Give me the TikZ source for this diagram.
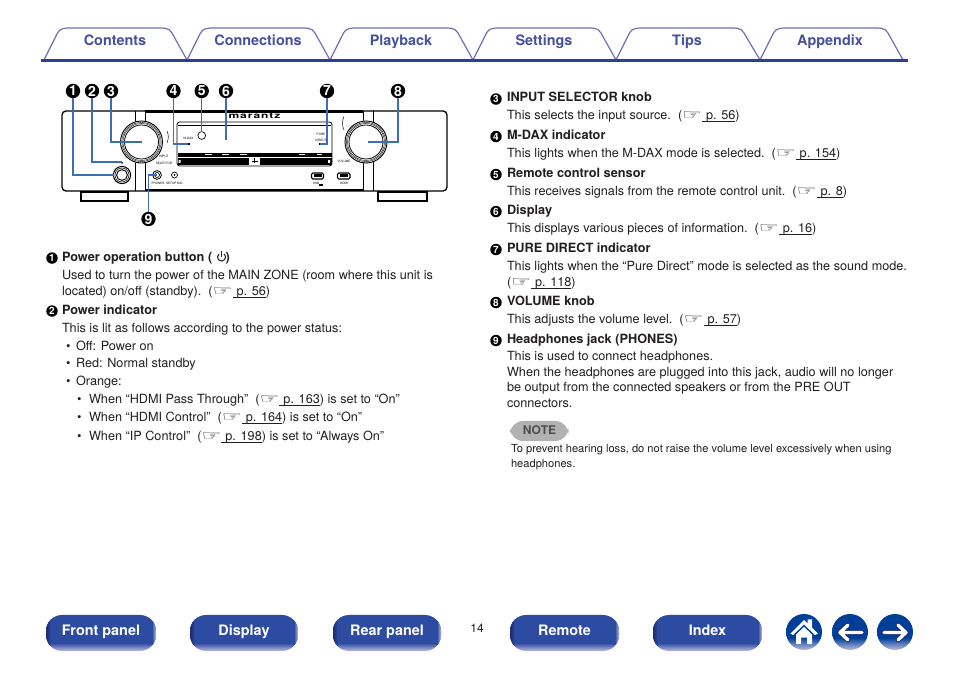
\documentclass[tikz,border=0pt]{standalone}
\usepackage{fontspec}
\usepackage{graphicx}
\setmainfont{TeX Gyre Heros}
\newfontfamily\handfont{DejaVu Sans}
\usetikzlibrary{calc}
\definecolor{tabline}{HTML}{6F70B8}
\definecolor{tabtext}{HTML}{45509F}
\definecolor{rule}{HTML}{2A3F96}
\definecolor{lead}{HTML}{3C6DB8}
\definecolor{txt}{HTML}{231F20}
\definecolor{btnblue}{HTML}{2C4BA1}
\definecolor{btnlight}{HTML}{BDBDDF}
\definecolor{btndark}{HTML}{1C2B74}
\definecolor{roundblue}{HTML}{003F98}
\definecolor{arrowedge}{HTML}{1B2A7A}
\pgfdeclareverticalshading{navshade}{100bp}{color(0bp)=(btnlight); color(25bp)=(btnlight); color(36bp)=(btnblue); color(100bp)=(btnblue)}
\pgfdeclareverticalshading{roundshade}{100bp}{color(0bp)=(btnlight); color(25bp)=(btnlight); color(42bp)=(roundblue); color(100bp)=(roundblue)}
\newcommand{\pul}[1]{\setbox0\hbox{\hspace{3pt}#1}\rlap{\rule[-1.4pt]{\wd0}{0.45pt}}\box0}
\newcommand{\pref}[1]{\scalebox{1.75}[1.1]{\handfont\fontsize{9.5pt}{10pt}\selectfont\char"261E}\pul{#1}}
\newcommand{\navbtn}[4]{%
  \begin{scope}
    \clip[rounded corners=12] (#2,615) rectangle (#3,651);
    \shade[shading=navshade] (#2,615) rectangle (#3,651);
    \shade[left color=btndark,right color=btnblue] (#2,615) rectangle ($(#2,645)+(5,0)$);
    \shade[left color=btnblue,right color=btnlight] ($(#3,615)+(-4,0)$) rectangle (#3,651);
  \end{scope}
  \node[navlabel] (#1) at ($(#2,635)!0.5!(#3,635)$) {#4};}
\newcommand{\tabshape}[5]{%
  \draw[tabedge] (#2,60) -- ($(#2,60)+(13.5,-27)$) to[out=63,in=180] ($(#2,28)+(26,0)$) -- ($(#2,28)+(112,0)$) to[out=0,in=117] ($(#2,60)+(128,-27)$) -- ($(#2,60)+(#5,0)$);
  \node[tablabel] (#1) at ($(#2,46)+(#3,0)$) {#4};}
\tikzset{
  body/.style={anchor=base west,inner sep=0,outer sep=0,yshift=-0.6pt,text=txt,font=\fontsize{9.5pt}{11pt}\selectfont},
  head/.style={body,font=\fontsize{9.55pt}{11pt}\selectfont\bfseries},
  notesm/.style={body,font=\fontsize{8.35pt}{10pt}\selectfont},
  num/.style={circle,fill=black,text=white,inner sep=0,minimum size=10.8pt,font=\fontsize{10.5pt}{11pt}\selectfont\bfseries},
  small/.style={circle,fill=black,text=white,inner sep=0,minimum size=8.6pt,yshift=-0.4pt,font=\fontsize{7.5pt}{8pt}\selectfont\bfseries},
  leader/.style={draw=lead,line width=1pt},
  tabedge/.style={draw=tabline,line width=0.9pt},
  tablabel/.style={anchor=base,text=tabtext,inner sep=0,font=\fontsize{10.8pt}{12pt}\selectfont\bfseries},
  navlabel/.style={anchor=base,text=white,inner sep=0,font=\fontsize{10.8pt}{12pt}\selectfont\bfseries},
  dev/.style={draw=black,line width=0.7pt},
  tiny/.style={inner sep=0,text=black,font=\fontsize{2.3pt}{2.6pt}\selectfont},
  bar/.style={draw=black,line width=0.8pt},
}
\begin{document}
\begin{tikzpicture}[x=0.75pt,y=-0.75pt]
\useasboundingbox (0,0) rectangle (954,673);
\fill[white] (0,0) rectangle (954,673);
% tabs
\tabshape{tabA}{44}{71}{Contents}{143}
\tabshape{tabB}{187}{71}{Connections}{143}
\tabshape{tabC}{330}{71}{Playback}{143}
\tabshape{tabD}{473}{71}{Settings}{143}
\tabshape{tabE}{616}{71}{Tips}{144}
\tabshape{tabF}{760}{70}{Appendix}{143}
\draw[draw=rule,line width=2.3pt] (41,60.5) -- (908,60.5);
% device body
\draw[dev,line width=1pt,rounded corners=3] (62,111) rectangle (447,191);
\fill[black] (145,109.8) rectangle (363,112.8);
\fill[black] (145,189) rectangle (363,191.5);
\draw[dev] (135,111) -- (135,191) (145,111) -- (145,191) (363,111) -- (363,191) (373,111) -- (373,191);
\fill[white] (125,122) rectangle (385,160);
% feet
\draw[bar,line width=1pt] (81,192) rectangle (128,201);
\fill[black] (95,200.5) rectangle (114,202.5);
\draw[bar,line width=1pt] (378,192) rectangle (427,201);
\fill[black] (393,200.5) rectangle (413,202.5);
% knobs
\foreach \kx in {141.5,366}{
  \fill[white] (\kx,142) circle (21.5);
  \draw[line width=0.7pt] (\kx,142) circle (21);
  \draw[line width=0.4pt,draw=black!80] (\kx,142) circle (19.6);
  \draw[line width=0.4pt,draw=black!80] (\kx,142) circle (18.5);
  \draw[line width=0.6pt] (\kx,142) circle (17);
}
\draw[line width=0.35pt] (167,131) arc (-25:25:14);
\draw[line width=0.35pt] (344,130) arc (155:205:16);
% power button
\fill[white] (122,175) circle (10);
\draw[line width=0.8pt] (122,175) circle (8.6);
\draw[line width=0.4pt] (122,175) circle (7);
\draw[line width=0.7pt] (122,175) circle (5.4);
\fill[black] (122,163) circle (1);
% display
\draw[line width=0.6pt,rounded corners=2] (177,122) rectangle (332,166);
\draw[line width=0.9pt] (178,125.5) -- (331,125.5);
\fill[black] (177.5,153) rectangle (331.5,157);
\fill[black] (177.5,158.5) rectangle (331.5,165.5);
\fill[white] (249,157) rectangle (260,165.5);
\draw[line width=0.5pt] (251.5,161) -- (257.5,161) (254.5,158.5) -- (254.5,163.5);
\fill[white] (178.5,160) rectangle (180.5,163) (328,160) rectangle (330,163);
\foreach \sx/\sw in {190/8,206/8,223/8,240/8,269/8,285/8,303/6,319/6}{
  \fill[black] (\sx,156) rectangle ++(\sw,1.2);
}
\foreach \sx/\sw in {205/7,222/7,240/7,299/6,317/5}{
  \fill[white] (\sx,153.6) rectangle ++(\sw,1);
}
% sensors and jacks
\draw[line width=0.5pt] (201.7,135.5) circle (3.9);
\fill[black] (188,143.5) rectangle (190,145);
\fill[black] (319,143.5) rectangle (322,145);
\node[tiny] (lblmdax) at (188.5,138.5) {M-DAX};
\node[tiny] (lblpure) at (321,137.5) {\shortstack{PURE\\DIRECT}};
\node[inner sep=0,font=\fontsize{6pt}{6pt}\selectfont\bfseries,text=black] (logo) at (254.5,116) {\scalebox{1.5}[1]{\addfontfeature{LetterSpace=8}marantz}};
\node[tiny] (lblinput) at (164,160) {\shortstack{INPUT\\SELECTOR}};
\node[tiny] (lblvol) at (344,161) {VOLUME};
\draw[line width=0.6pt] (157,175) circle (4.4);
\draw[line width=0.5pt] (157,175) circle (2.5);
\draw[line width=0.5pt] (174.5,175) circle (3);
\fill[black] (174.5,175) circle (1);
\node[tiny] (lblphones) at (158,183) {PHONES};
\node[tiny] (lblsetup) at (174.5,183) {SETUP MIC};
\draw[line width=0.8pt,rounded corners=1] (311.5,173) rectangle (323.5,179);
\draw[line width=0.8pt,rounded corners=1] (337.5,173) rectangle (350,179);
\fill[black] (313.5,174.5) rectangle (321.5,177);
\fill[black] (339.5,174.5) rectangle (348,177);
\node[tiny] (lblusb) at (316,183.5) {USB};
\fill[black] (319,184) rectangle (323,186.5);
\node[tiny] (lblhdmi) at (344,183) {HDMI};
% number callouts and leaders
\node[num] (n1) at (73,91) {1};
\node[num] (n2) at (92,91) {2};
\node[num] (n3) at (111,91) {3};
\node[num] (n4) at (173.5,91) {4};
\node[num] (n5) at (201.7,91) {5};
\node[num] (n6) at (226,91) {6};
\node[num] (n7) at (327,91) {7};
\node[num] (n8) at (398,91) {8};
\node[num] (n9) at (148.5,219) {9};
\coordinate (e1) at (114,175);
\coordinate (e2) at (122,162);
\coordinate (e3) at (142,142);
\coordinate (e4) at (188,144);
\coordinate (e5) at (201.7,131.6);
\coordinate (e6) at (226,140);
\coordinate (e7) at (320,144);
\coordinate (e8) at (368,142);
\coordinate (e9) at (157,175);
\draw[leader] (n1) |- (e1);
\draw[leader] (n2) |- (e2);
\draw[leader] (n3) |- (e3);
\draw[leader] (n4) |- (e4);
\draw[leader] (n5) -- (e5);
\draw[leader] (n6) -- (e6);
\draw[leader] (n7) |- (e7);
\draw[leader] (n8) |- (e8);
\draw[leader] (n9) |- (e9);
% left column
\node[small] (b1) at (52,257.5) {1};
\node[head] (l1) at (62,260.5) {Power operation button (\hspace{10pt})};
\draw[line width=0.8pt,txt] (224.2,254) arc (-50:230:4);
\draw[line width=0.9pt,txt] (221.6,251.5) -- (221.6,257);
\node[body] (l2) at (62,278.5) {Used to turn the power of the MAIN ZONE (room where this unit is};
\node[body] (l3) at (62,295) {located) on/off (standby).\ \ (\pref{p. 56})};
\node[small] (b2) at (52,310.5) {2};
\node[head] (l4) at (62,313.5) {Power indicator};
\node[body] (l5) at (62,331.5) {This is lit as follows according to the power status:};
\node[body] (d1) at (66,349.5) {•};
\node[body] (l6) at (76,349.5) {Off: Power on};
\node[body] (d2) at (66,367) {•};
\node[body] (l7) at (76,367) {Red: Normal standby};
\node[body] (d3) at (66,385) {•};
\node[body] (l8) at (76,385) {Orange:};
\node[body] (d4) at (77,403) {•};
\node[body] (l9) at (89,403) {When “HDMI Pass Through”\ \ (\pref{p. 163}) is set to “On”};
\node[body] (d5) at (77,421) {•};
\node[body] (l10) at (89,421) {When “HDMI Control”\ \ (\pref{p. 164}) is set to “On”};
\node[body] (d6) at (77,440) {•};
\node[body] (l11) at (89,440) {When “IP Control”\ \ (\pref{p. 198}) is set to “Always On”};
% right column
\node[small] (b3) at (496,98.5) {3};
\node[head] (r1) at (507,101) {INPUT SELECTOR knob};
\node[body] (r2) at (507,119) {This selects the input source.\ \ (\pref{p. 56})};
\node[small] (b4) at (496,136) {4};
\node[head] (r3) at (507,138.5) {M-DAX indicator};
\node[body] (r4) at (507,156.5) {This lights when the M-DAX mode is selected.\ \ (\pref{p. 154})};
\node[small] (b5) at (496,174) {5};
\node[head] (r5) at (507,176.5) {Remote control sensor};
\node[body] (r6) at (507,194.5) {This receives signals from the remote control unit.\ \ (\pref{p. 8})};
\node[small] (b6) at (496,211) {6};
\node[head] (r7) at (507,213.5) {Display};
\node[body] (r8) at (507,231.5) {This displays various pieces of information.\ \ (\pref{p. 16})};
\node[small] (b7) at (496,249) {7};
\node[head] (r9) at (507,251.5) {PURE DIRECT indicator};
\node[body] (r10) at (507,269.5) {This lights when the “Pure Direct” mode is selected as the sound mode.};
\node[body] (r11) at (507,286) {(\pref{p. 118})};
\node[small] (b8) at (496,302) {8};
\node[head] (r12) at (507,304.5) {VOLUME knob};
\node[body] (r13) at (507,323) {This adjusts the volume level.\ \ (\pref{p. 57})};
\node[small] (b9) at (496,340) {9};
\node[head] (r14) at (507,342.5) {Headphones jack (PHONES)};
\node[body] (r15) at (507,359.5) {This is used to connect headphones.};
\node[body] (r16) at (507,375.5) {When the headphones are plugged into this jack, audio will no longer};
\node[body] (r17) at (507,391) {be output from the connected speakers or from the PRE OUT};
\node[body] (r18) at (507,407) {connectors.};
% note
\fill[black!30,rounded corners=9.9] (510,421) rectangle (568.5,441);
\node[inner sep=0,text=black!70,font=\fontsize{9pt}{10pt}\selectfont\bfseries] (note) at (539.5,430.5) {NOTE};
\node[notesm] (n1t) at (511,452) {To prevent hearing loss, do not raise the volume level excessively when using};
\node[notesm] (n2t) at (511,467) {headphones.};
% footer
\navbtn{fb1}{46}{156}{Front panel}
\navbtn{fb2}{190}{298}{Display}
\navbtn{fb3}{333}{441}{Rear panel}
\navbtn{fb4}{510}{619}{Remote}
\navbtn{fb5}{653}{762}{Index}
\node[inner sep=0,text=txt,font=\fontsize{9pt}{10pt}\selectfont] (pg) at (477,628.5) {14};
% round buttons
\foreach \cx in {804,850,895}{
  \shade[shading=roundshade] (\cx,632) circle (18);
}
\fill[white] (790.5,633.5) -- (804,620) -- (807.5,623.3) -- (807.5,619.5) -- (812,619.5) -- (812,627.7) -- (818,633.5) -- (815,635) -- (804,624.5) -- (793,635) -- cycle;
\fill[white] (796,634.5) -- (804,627) -- (812,634.5) -- (812,644) -- (807,644) -- (807,637.5) -- (801,637.5) -- (801,644) -- (796,644) -- cycle;
\draw[arrowedge,line width=3.6pt,line cap=round,line join=round] (862,632.5) -- (840,632.5) (848,625) -- (840,632.5) -- (848,640);
\draw[white,line width=2.5pt,line cap=round,line join=round] (862,632.5) -- (840,632.5) (848,625) -- (840,632.5) -- (848,640);
\draw[arrowedge,line width=3.6pt,line cap=round,line join=round] (884,632.5) -- (906,632.5) (898,625) -- (906,632.5) -- (898,640);
\draw[white,line width=2.5pt,line cap=round,line join=round] (884,632.5) -- (906,632.5) (898,625) -- (906,632.5) -- (898,640);
\end{tikzpicture}
\end{document}
